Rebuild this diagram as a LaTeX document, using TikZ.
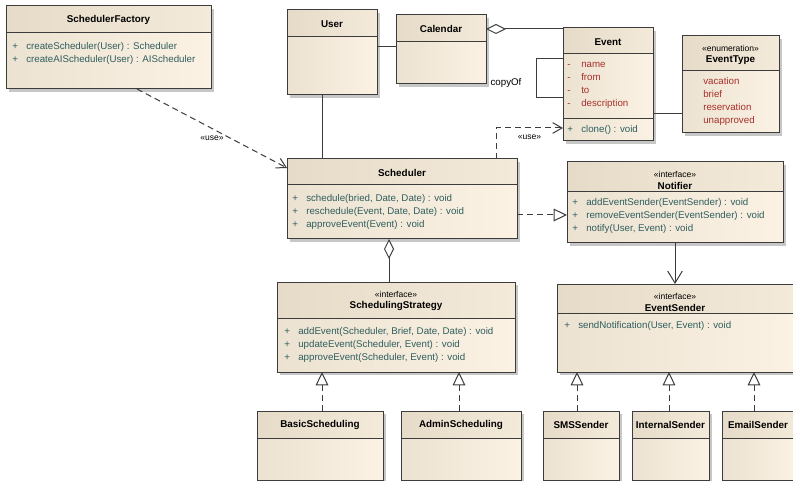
\documentclass[tikz,border=0pt]{standalone}
\usepackage{fontspec}
\setmainfont{Liberation Sans}
\usetikzlibrary{arrows.meta,fit}

\definecolor{umlline}{HTML}{3C3C3C}
\definecolor{umlop}{HTML}{2F5E5E}
\definecolor{umlattr}{HTML}{A8302C}
\definecolor{bodyleft}{HTML}{ECE2D1}
\definecolor{bodyright}{HTML}{FBF2E4}
\definecolor{headleft}{HTML}{E6DBC8}
\definecolor{headright}{HTML}{F4EADA}

\tikzset{
  classline/.style={draw=umlline, line width=0.75pt},
  classbody/.style={rectangle, inner sep=0pt, outer sep=0pt, left color=bodyleft, right color=bodyright},
  classhead/.style={left color=headleft, right color=headright},
  boxshadow/.style={fill=black!22},
  classname/.style={font=\fontsize{7.4}{9}\selectfont\bfseries, inner sep=0pt},
  stereo/.style={font=\fontsize{6.4}{8}\selectfont, inner sep=0pt},
  opline/.style={anchor=west, inner sep=0pt, text height=5.4pt, text depth=1.6pt, font=\fontsize{7.3}{9}\selectfont, text=umlop},
  attrline/.style={opline, text=umlattr},
  link/.style={classline},
  usedep/.style={classline, dash pattern=on 4.5pt off 3pt, arrows={-{Straight Barb[length=7pt,width=8pt]}}},
  realize/.style={classline, dash pattern=on 4.5pt off 3pt, arrows={-{Triangle[open,fill=white,length=10pt,width=9.5pt]}}},
  aggr/.style={classline, arrows={{Diamond[open,fill=white,length=15pt,width=7.5pt]}-}},
  navig/.style={classline, arrows={-{Straight Barb[length=9pt,width=11pt]}}},
}

% class box: name, left, top, right, bottom, header bottom
\newcommand{\umlclass}[6]{%
  \fill[boxshadow] (#2+3,#3+3) rectangle (#4+3,#5+3);
  \node[classbody, fit={(#2,#3) (#4,#5)}] (#1) {};
  \shade[classhead] (#2,#3) rectangle (#4,#6);
  \draw[classline] (#2,#6) -- (#4,#6) (#2,#3) rectangle (#4,#5);
}
% member lines: prefix, style, marker, x, y of first line, lines
\newcommand{\members}[6]{%
  \foreach \mline [count=\i] in {#6}
    \node[#2] (#1-\i) at (#4,#5+13*\i-13) {\makebox[10.5pt][l]{#3}\mline};
}

\begin{document}
\begin{tikzpicture}[x=0.75pt, y=-0.75pt]
    \useasboundingbox (0,0) rectangle (793,481);
    \fill[white] (0,0) rectangle (793,481);
    \clip (0,0) rectangle (793,481);

    % Classes
    \umlclass{factory}{6}{6}{211}{89}{33}
    \node[classname] (factory-t) at (108.5,20) {SchedulerFactory};
    \members{factory}{opline}{+}{12}{46.5}{{createScheduler(User) : Scheduler}, {createAIScheduler(User) : AIScheduler}}

    \umlclass{user}{287}{10}{377}{95}{37}
    \node[classname] (user-t) at (332,24) {User};

    \umlclass{calendar}{396}{15}{486}{84}{42}
    \node[classname] (calendar-t) at (441,29) {Calendar};

    \umlclass{event}{563}{28}{653}{141}{54}
    \draw[classline] (563,119) -- (653,119);
    \node[classname] (event-t) at (608,42) {Event};
    \members{event-a}{attrline}{-}{567}{64.5}{name, from, to, description}
    \members{event}{opline}{+}{567}{129.5}{{clone() : void}}

    \umlclass{eventtype}{682}{36}{779}{133}{71}
    \node[stereo] (eventtype-s) at (730.5,48) {«enumeration»};
    \node[classname] (eventtype-t) at (730.5,60) {EventType};
    \members{eventtype}{attrline}{}{689}{82}{vacation, brief, reservation, unapproved}

    \umlclass{scheduler}{287}{159}{517}{239}{185}
    \node[classname] (scheduler-t) at (402,173) {Scheduler};
    \members{scheduler}{opline}{+}{292}{199}{{schedule(bried, Date, Date) : void}, {reschedule(Event, Date, Date) : void}, {approveEvent(Event) : void}}

    \umlclass{notifier}{567}{162}{783}{243}{192}
    \node[stereo] (notifier-s) at (675,174) {«interface»};
    \node[classname] (notifier-t) at (675,186) {Notifier};
    \members{notifier}{opline}{+}{572}{203}{{addEventSender(EventSender) : void}, {removeEventSender(EventSender) : void}, {notify(User, Event) : void}}

    \umlclass{strategy}{277}{282}{515}{372}{318}
    \node[stereo] (strategy-s) at (396,294) {«interface»};
    \node[classname] (strategy-t) at (396,306) {SchedulingStrategy};
    \members{strategy}{opline}{+}{284}{332}{{addEvent(Scheduler, Brief, Date, Date) : void}, {updateEvent(Scheduler, Event) : void}, {approveEvent(Scheduler, Event) : void}}

    \umlclass{sender}{557}{284}{796}{372}{313}
    \node[stereo] (sender-s) at (675,296) {«interface»};
    \node[classname] (sender-t) at (675,308) {EventSender};
    \members{sender}{opline}{+}{564}{326}{{sendNotification(User, Event) : void}}

    \umlclass{basic}{257}{411}{383}{480}{438}
    \node[classname] (basic-t) at (320,425) {BasicScheduling};
    \umlclass{admin}{401}{411}{521}{480}{438}
    \node[classname] (admin-t) at (461,425) {AdminScheduling};
    \umlclass{sms}{543}{411}{619}{480}{438}
    \node[classname] (sms-t) at (581,425) {SMSSender};
    \umlclass{internal}{632}{411}{709}{480}{438}
    \node[classname] (internal-t) at (670.5,425) {InternalSender};
    \umlclass{email}{722}{411}{796}{480}{438}
    \node[classname] (email-t) at (758,425) {EmailSender};

    % Associations and dependencies
    \draw[usedep] (factory.south -| 137,0) -- node[stereo, midway, yshift=-7.5pt] (use1) {«use»} (scheduler.west |- 0,168);
    \draw[link] (user.east |- 0,47) -- (calendar.west |- 0,47);
    \draw[aggr] (calendar.east |- 0,29) -- (event.west |- 0,29);
    \coordinate (loopcorner) at (536,98);
    \draw[link] (event.west |- 0,59) -| (loopcorner) -- (event.west |- loopcorner);
    \node[font=\fontsize{7.3}{9}\selectfont, inner sep=0pt] (copyof) at (506,83) {copyOf};
    \draw[link] (event.east |- 0,114) -- (eventtype.west |- 0,114);
    \draw[link] (user.south -| 322,0) -- (scheduler.north -| 322,0);
    \draw[usedep] (scheduler.north -| 496,0) |- node[stereo, pos=0.75, yshift=-6.75pt] (use2) {«use»} (event.west |- 0,128);
    \draw[realize] (scheduler.east |- 0,215) -- (notifier.west |- 0,215);
    \draw[aggr] (scheduler.south -| 389,0) -- (strategy.north -| 389,0);
    \draw[navig] (notifier.south -| 675,0) -- (sender.north -| 675,0);

    % Realizations
    \draw[realize] (basic.north -| 322,0) -- (strategy.south -| 322,0);
    \draw[realize] (admin.north -| 459,0) -- (strategy.south -| 459,0);
    \draw[realize] (sms.north -| 577,0) -- (sender.south -| 577,0);
    \draw[realize] (internal.north -| 669,0) -- (sender.south -| 669,0);
    \draw[realize] (email.north -| 754,0) -- (sender.south -| 754,0);

\end{tikzpicture}
\end{document}
